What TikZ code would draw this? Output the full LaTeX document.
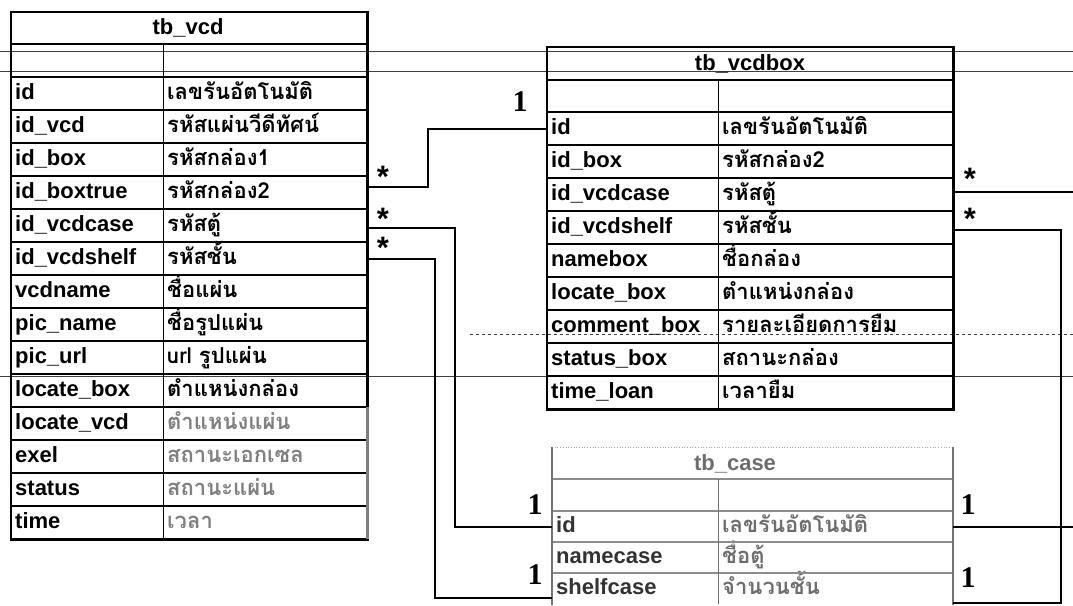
\documentclass[tikz,border=0pt]{standalone}
\usepackage{fontspec}
\setmainfont{Liberation Sans}
\newfontfamily\thai[Script=Thai]{Loma}
\newfontfamily\starfam{Liberation Sans}
\newfontfamily\onefam{Liberation Serif}
\usepackage{tikz}
\newcommand{\fldsize}{\fontsize{22}{24}\selectfont\bfseries}
\definecolor{fadeink}{HTML}{808080}
\definecolor{caseink}{HTML}{6E6E6E}

\begin{document}
\begin{tikzpicture}[x=1pt,y=-1pt,
  namecell/.style={anchor=north west,minimum height=33pt,inner xsep=4pt,inner ysep=0pt,
    text height=16pt,text depth=5pt,align=left,font=\fldsize},
  thaicell/.style={namecell,font=\thai\fldsize},
  tbltitle/.style={font=\fldsize,inner sep=0pt},
  grid/.style={line width=1.5pt,black},
  frame/.style={line width=2.3pt,black},
  pageline/.style={line width=0.7pt,black!75},
  link/.style={line width=1.9pt,black},
  many/.style={font=\starfam\bfseries\fontsize{31}{31}\selectfont,inner sep=0pt},
  one/.style={font=\onefam\bfseries\fontsize{30}{30}\selectfont,inner sep=0pt}]
  \useasboundingbox (0,0) rectangle (1073,605);
  \clip (0,0) rectangle (1073,605);
  \coordinate (rim) at (1073,0);

  \draw[pageline] (0,51) -- (1073,51);
  \draw[pageline] (0,71) -- (1073,71);
  \draw[pageline] (0,376) -- (1073,376);
  \draw[pageline,dashed] (470,334) -- (1073,334);

  % tb_vcd
  \node[tbltitle] (vcd) at (188,28) {tb\_vcd};
  \node[namecell,text width=144pt] (vcd-n0) at (11,44) {};
  \node[thaicell,text width=196pt] (vcd-v0) at (163,44) {};
  \foreach \f/\t/\col [count=\i, evaluate=\i as \y using 77+33*(\i-1)] in {
    id/เลขรันอัตโนมัติ/black, id\_vcd/รหัสแผ่นวีดีทัศน์/black,
    id\_box/รหัสกล่อง1/black, id\_boxtrue/รหัสกล่อง2/black,
    id\_vcdcase/รหัสตู้/black, id\_vcdshelf/รหัสชั้น/black,
    vcdname/ชื่อแผ่น/black, pic\_name/ชื่อรูปแผ่น/black,
    pic\_url/url รูปแผ่น/black, locate\_box/ตำแหน่งกล่อง/black,
    locate\_vcd/ตำแหน่งแผ่น/fadeink, exel/สถานะเอกเซล/fadeink,
    status/สถานะแผ่น/fadeink, time/เวลา/fadeink}
  {
    \node[namecell,text width=144pt] (vcd-n\i) at (11,\y) {\f};
    \node[thaicell,text width=196pt,text=\col] (vcd-v\i) at (163,\y) {\t};
    \draw[grid] (vcd-n\i.north west) -- (vcd-v\i.north east);
  }
  \draw[grid] (vcd-n0.north west) -- (vcd-v0.north east);
  \draw[grid] (vcd-n0.north east) -- (vcd-n14.south east);
  \draw[frame] (11,12) rectangle (vcd-v14.south east);
  \draw[frame,fadeink] (vcd-v11.north east) -- (vcd-v14.south east);

  % tb_vcdbox
  \node[tbltitle] (box) at (750,64) {tb\_vcdbox};
  \node[namecell,minimum height=32pt,text width=163pt] (box-n0) at (547,80) {};
  \node[thaicell,minimum height=32pt,text width=227pt] (box-v0) at (718,80) {};
  \foreach \f/\t [count=\i, evaluate=\i as \y using 112+33*(\i-1)] in {
    id/เลขรันอัตโนมัติ, id\_box/รหัสกล่อง2, id\_vcdcase/รหัสตู้,
    id\_vcdshelf/รหัสชั้น, namebox/ชื่อกล่อง, locate\_box/ตำแหน่งกล่อง,
    comment\_box/รายละเอียดการยืม, status\_box/สถานะกล่อง, time\_loan/เวลายืม}
  {
    \node[namecell,text width=163pt] (box-n\i) at (547,\y) {\f};
    \node[thaicell,text width=227pt] (box-v\i) at (718,\y) {\t};
    \draw[grid] (box-n\i.north west) -- (box-v\i.north east);
  }
  \draw[grid] (box-n0.north west) -- (box-v0.north east);
  \draw[grid] (box-n0.north east) -- (box-n9.south east);
  \draw[frame,line width=2.9pt] (547,47) rectangle (box-v9.south east);

  % tb_case
  \node[tbltitle,text=caseink] (case) at (735,464) {tb\_case};
  \node[namecell,minimum height=32pt,text width=158pt] (case-n0) at (552,479) {};
  \node[thaicell,minimum height=32pt,text width=227pt] (case-v0) at (718,479) {};
  \foreach \f/\t [count=\i, evaluate=\i as \y using 511+31*(\i-1)] in {
    id/เลขรันอัตโนมัติ, namecase/ชื่อตู้, shelfcase/จำนวนชั้น}
  {
    \node[namecell,minimum height=31pt,text width=158pt,text=black!80] (case-n\i) at (552,\y) {\f};
    \node[thaicell,minimum height=31pt,text width=227pt,text=caseink] (case-v\i) at (718,\y) {\t};
    \draw[grid,black!45] (case-n\i.north west) -- (case-v\i.north east);
  }
  \draw[grid,black!45] (case-n0.north west) -- (case-v0.north east);
  \draw[grid,black!55] (case-n0.north east) -- (case-n3.south east);
  \draw[pageline,black!35,dotted] (552,447) -- (953,447);
  \draw[frame,black!55,line width=2.6pt] (552,447) -- (552,605);
  \draw[frame,black!55,line width=2.6pt] (953,447) -- (953,605);

  % links
  \draw[link] ([yshift=6pt]vcd-v4.east) -- ++(61,0) |- (box-n1.west);
  \draw[link] ([yshift=-2pt]vcd-v5.east) -- ++(88,0) |- (case-n1.west);
  \draw[link] (vcd-v6.east) -- ++(68,0) |- ([yshift=-9pt]case-n3.west);
  \draw[link] ([yshift=3pt]box-v3.east) -- ([yshift=3pt]box-v3.east -| rim);
  \draw[link] ([yshift=-2pt]box-v4.east) -- ++(108,0) |- ([yshift=-14pt]case-v3.east);
  \draw[link] (case-v1.east) -- (case-v1.east -| rim);

  \node[many] (s1) at (383,177) {*};
  \node[many] (s2) at (383,219) {*};
  \node[many] (s3) at (383,248) {*};
  \node[many] (s4) at (970,179) {*};
  \node[many] (s5) at (970,219) {*};
  \node[one] (o1) at (520,102) {1};
  \node[one] (o2) at (535,505) {1};
  \node[one] (o3) at (535,575) {1};
  \node[one] (o4) at (968,505) {1};
  \node[one] (o5) at (968,578) {1};
\end{tikzpicture}
\end{document}
